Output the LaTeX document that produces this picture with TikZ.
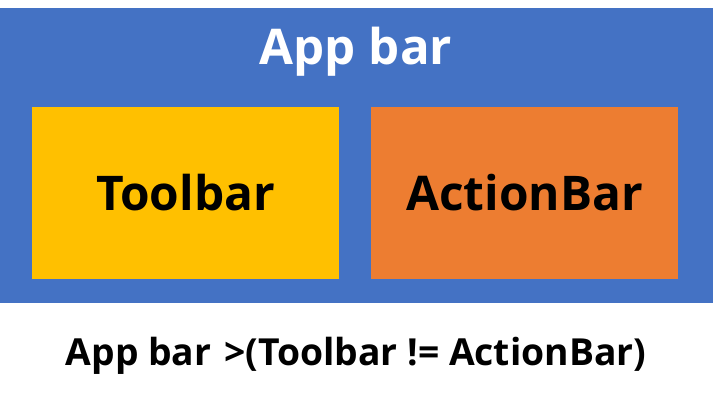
\documentclass[tikz,border=0pt]{standalone}
\usepackage{fontspec}
\setmainfont{Open Sans}
\usepackage{tikz}
\usetikzlibrary{positioning}
\definecolor{appblue}{HTML}{4472C4}
\definecolor{tbyellow}{HTML}{FFC000}
\definecolor{aborange}{HTML}{ED7D31}
\tikzset{
  barbox/.style={draw=none, inner sep=0pt, outer sep=0pt, font=\bfseries\fontsize{34}{40}\selectfont},
  barlab/.style={inner sep=0pt, font=\bfseries, align=center},
}
\begin{document}
\begin{tikzpicture}[x=0.025cm,y=-0.025cm]
\useasboundingbox (0,0) rectangle (713,398);
\fill[appblue] (0,8) rectangle (713,303);
\node[barlab, text=white, font=\bfseries\fontsize{35}{42}\selectfont] (app) at (356,52) {App bar};
\node[barbox, fill=tbyellow, minimum width=307*0.025cm, minimum height=172*0.025cm] (tool) at (185.5,193) {Toolbar};
\node[barbox, fill=aborange, minimum width=307*0.025cm, minimum height=172*0.025cm] (action) at (524.5,193) {ActionBar};
\node[barlab, font=\bfseries\fontsize{26.5}{32}\selectfont] (cmp) at (356,356) {App bar\hspace{0.35em}>(Toolbar != ActionBar)};
\end{tikzpicture}
\end{document}
